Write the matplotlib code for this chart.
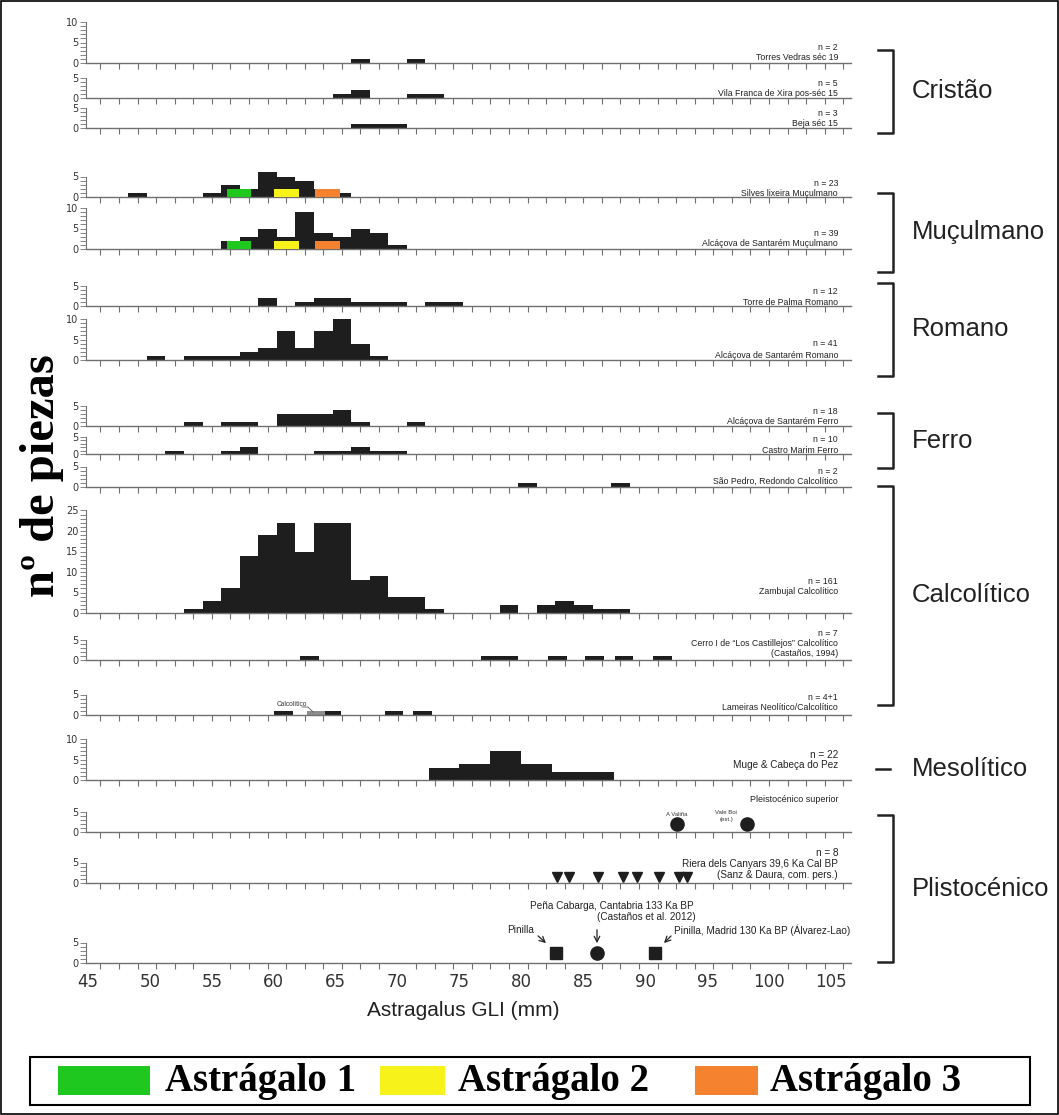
import numpy as np
import matplotlib
matplotlib.use('Agg')
import matplotlib.pyplot as plt
from matplotlib import font_manager as fm
from matplotlib.lines import Line2D
from matplotlib.patches import Rectangle

# ---- dados (GLI em mm, contagens por classe) ----
torres_x = [67, 71.5]
torres_n = [1, 1]
vila_x = [65.5, 67, 71.5, 73]
vila_n = [1, 2, 1, 1]
beja_x = [67, 68.5, 70]
beja_n = [1, 1, 1]
silves_x = [49, 55, 56.5, 58, 59.5, 61, 62.5, 64, 65.5]
silves_n = [1, 1, 3, 2, 6, 5, 4, 2, 1]
alcm_x = [56.5, 58, 59.5, 61, 62.5, 64, 65.5, 67, 68.5, 70]
alcm_n = [2, 3, 5, 3, 9, 4, 3, 5, 4, 1]
palma_x = [59.5, 62.5, 64, 65.5, 67, 68.5, 70, 73, 74.5]
palma_n = [2, 1, 2, 2, 1, 1, 1, 1, 1]
alcr_x = [50.5, 53.5, 55, 56.5, 58, 59.5, 61, 62.5, 64, 65.5, 67, 68.5]
alcr_n = [1, 1, 1, 1, 2, 3, 7, 3, 7, 10, 4, 1]
alcf_x = [53.5, 56.5, 58, 61, 62.5, 64, 65.5, 67, 71.5]
alcf_n = [1, 1, 1, 3, 3, 3, 4, 1, 1]
castro_x = [52, 56.5, 58, 64, 65.5, 67, 68.5, 70]
castro_n = [1, 1, 2, 1, 1, 2, 1, 1]
saop_x = [80.5, 88]
saop_n = [1, 1]
zamb_x = [53.5, 55, 56.5, 58, 59.5, 61, 62.5, 64, 65.5, 67, 68.5, 70, 71.5, 73,
          79, 82, 83.5, 85, 86.5, 88]
zamb_n = [1, 3, 6, 14, 19, 22, 15, 22, 22, 8, 9, 4, 4, 1,
          2, 2, 3, 2, 1, 1]
cerro_x = [62.9, 77.5, 79, 82.9, 85.9, 88.3, 91.4]
cerro_n = [1, 1, 1, 1, 1, 1, 1]
lam_x = [60.8, 64.7, 69.7, 72.0]
lam_n = [1, 1, 1, 1]
lam_calc_x = [63.4]
lam_calc_n = [1]
muge_x = [73.75, 76.25, 78.75, 81.25, 83.75, 86.25]
muge_n = [3, 4, 7, 4, 2, 2]

# os 3 astrágalos estudados
astr_x = [57.2, 61.05, 64.35]
astr_h = [2, 2, 2]
astr_cor = ['#1ec81e', '#f7f21a', '#f5822e']
astr_lab = ['Astrágalo 1', 'Astrágalo 2', 'Astrágalo 3']

# Plistocénico (valores individuais)
valina_x, valina_y = [92.6], [2]
valeboi_x, valeboi_y = [98.2], [2]
riera_x = [82.9, 83.85, 86.2, 88.2, 89.3, 91.15, 92.75, 93.4]
riera_y = [1.5] * 8
pinilla_x, pinilla_y = [82.8, 90.8], [2.4, 2.4]
cabarga_x, cabarga_y = [86.1], [2.4]

xticklab = [45, 50, 55, 60, 65, 70, 75, 80, 85, 90, 95, 100, 105]

# ---- figura ----
W_PX, H_PX = 1059, 1115
fig = plt.figure(figsize=(W_PX / 100, H_PX / 100), dpi=100)

X0_PX, PX_MM = 88, 12.383   # 45 mm -> px 88
XMIN, XMAX = 44.8, 106.6
PPU = 4.1                   # px por peça
GRAY = '#707070'
BARC = '#1e1e1e'

try:
    fm.findfont('Liberation Sans Narrow', fallback_to_default=False)
    NARROW, NSIZE = 'Liberation Sans Narrow', 7.3
except Exception:
    NARROW, NSIZE = 'Liberation Sans', 6.3


def fx(px):
    return px / W_PX


def fy(py):
    return 1 - py / H_PX


def panel(base, ymax, bottom=False, ppu=PPU):
    left = X0_PX + (XMIN - 45) * PX_MM
    right = X0_PX + (XMAX - 45) * PX_MM
    h = ymax * ppu
    ax = fig.add_axes([fx(left), fy(base), (right - left) / W_PX, h / H_PX])
    ax.set_xlim(XMIN, XMAX)
    ax.set_ylim(0, ymax)
    ax.patch.set_alpha(0)
    for s in ['top', 'right']:
        ax.spines[s].set_visible(False)
    ax.spines['bottom'].set_color(GRAY)
    ax.spines['left'].set_color(GRAY)
    ax.spines['bottom'].set_linewidth(1.0)
    ax.spines['left'].set_linewidth(0.8)
    ax.set_yticks(np.arange(0, ymax + 1, 5))
    ax.set_yticks(np.arange(0, ymax + 1, 1), minor=True)
    ax.tick_params(axis='y', which='both', length=4, width=0.6, color=GRAY,
                   labelsize=7, labelcolor='#333333', pad=1)
    ax.set_xticks(np.arange(46, 106.2, 1.5), minor=True)
    ax.tick_params(axis='x', which='minor', length=4, width=0.8, color=GRAY)
    if bottom:
        ax.set_xticks(xticklab)
        ax.tick_params(axis='x', which='major', length=0, labelsize=12,
                       labelcolor='#333333', pad=7)
    else:
        ax.set_xticks([])
    return ax


def hist(ax, x, n, w=1.5, color=BARC):
    ax.bar(x, n, width=w, color=color, edgecolor='none', clip_on=False, zorder=2)


def rlabel(lines, ys, family=None, size=None):
    for s, y in zip(lines, ys):
        fig.text(fx(838), fy(y), s, ha='right', va='center',
                 fontsize=size or NSIZE, family=family or NARROW, color='#222222')


ax = panel(63, 10); hist(ax, torres_x, torres_n)
rlabel(['n = 2', 'Torres Vedras séc 19'], [48, 58])
ax = panel(98, 5); hist(ax, vila_x, vila_n)
rlabel(['n = 5', 'Vila Franca de Xira pos-séc 15'], [84, 94])
ax = panel(128, 5); hist(ax, beja_x, beja_n)
rlabel(['n = 3', 'Beja séc 15'], [113, 123])

ax = panel(197, 5); hist(ax, silves_x, silves_n)
ax.bar(astr_x, astr_h, width=2.0, color=astr_cor, edgecolor='none', zorder=3)
rlabel(['n = 23', 'Silves lixeira Muçulmano'], [183, 193])
ax = panel(249, 10); hist(ax, alcm_x, alcm_n)
ax.bar(astr_x, astr_h, width=2.0, color=astr_cor, edgecolor='none', zorder=3)
rlabel(['n = 39', 'Alcáçova de Santarém Muçulmano'], [234, 244])

ax = panel(306, 5); hist(ax, palma_x, palma_n)
rlabel(['n = 12', 'Torre de Palma Romano'], [292, 302])
ax = panel(360, 10); hist(ax, alcr_x, alcr_n)
rlabel(['n = 41', 'Alcáçova de Santarém Romano'], [344, 355])

ax = panel(426, 5); hist(ax, alcf_x, alcf_n)
rlabel(['n = 18', 'Alcáçova de Santarém Ferro'], [411, 421])
ax = panel(454, 5, ppu=3.4); hist(ax, castro_x, castro_n)
rlabel(['n = 10', 'Castro Marim Ferro'], [440, 450])

ax = panel(487, 5); hist(ax, saop_x, saop_n)
rlabel(['n = 2', 'São Pedro, Redondo Calcolítico'], [471, 481])
ax = panel(613, 25); hist(ax, zamb_x, zamb_n)
rlabel(['n = 161', 'Zambujal Calcolítico'], [581, 592])
ax = panel(660, 5); hist(ax, cerro_x, cerro_n)
rlabel(['n = 7', 'Cerro I de “Los Castillejos” Calcolítico', '(Castaños, 1994)'],
       [633, 644, 654])
ax = panel(715, 5); hist(ax, lam_x, lam_n)
hist(ax, lam_calc_x, lam_calc_n, color='#8c8c8c')
rlabel(['n = 4+1', 'Lameiras Neolítico/Calcolítico'], [697, 707])
fig.text(fx(277), fy(705), 'Calcolítico', fontsize=4.8, family=NARROW,
         ha='left', va='center', color='#333333')
fig.add_artist(Line2D([fx(302), fx(308), fx(313)], [fy(707), fy(707), fy(712)],
                      color='#555555', lw=0.6))

ax = panel(780, 10); hist(ax, muge_x, muge_n, w=2.5)
rlabel(['n = 22', 'Muge & Cabeça do Pez'], [755, 765], family='Liberation Sans', size=7.2)

rlabel(['Pleistocénico superior'], [799], family='Liberation Sans', size=6.5)
ax = panel(832, 5)
ax.plot(valina_x, valina_y, 'o', ms=9.5, color=BARC, clip_on=False)
ax.plot(valeboi_x, valeboi_y, 'o', ms=9.5, color=BARC, clip_on=False)
fig.text(fx(677), fy(815), 'A Valiña', fontsize=4.3, ha='center', va='center',
         family='Liberation Sans', color='#333333')
fig.text(fx(726), fy(813), 'Vale Boi', fontsize=4.3, ha='center', va='center',
         family='Liberation Sans', color='#333333')
fig.text(fx(726), fy(819), '(est.)', fontsize=4.3, ha='center', va='center',
         family='Liberation Sans', color='#333333')

ax = panel(883, 5)
ax.plot(riera_x, riera_y, 'v', ms=7.5, color=BARC, clip_on=False)
rlabel(['n = 8', 'Riera dels Canyars 39,6 Ka Cal BP', '(Sanz & Daura, com. pers.)'],
       [853, 864, 875], family='Liberation Sans', size=7.2)

ax = panel(963, 5, bottom=True)
ax.plot(pinilla_x, pinilla_y, 's', ms=8.8, color=BARC, clip_on=False)
ax.plot(cabarga_x, cabarga_y, 'o', ms=9.5, color=BARC, clip_on=False)


def fp(x, y):
    return (x, H_PX - y)


small = dict(fontsize=7.2, family='Liberation Sans', color='#222222')
fig.text(fx(612), fy(906), 'Peña Cabarga, Cantabria 133 Ka BP', ha='center', va='center', **small)
fig.text(fx(646), fy(917), '(Castaños et al. 2012)', ha='center', va='center', **small)
fig.text(fx(534), fy(930), 'Pinilla', ha='right', va='center', **small)
fig.text(fx(674), fy(930), 'Pinilla, Madrid 130 Ka BP (Álvarez-Lao)', ha='left', va='center', **small)
arr = dict(arrowstyle='->', color='#222222', lw=0.9)
ax.annotate('', xy=fp(548, 945), xytext=fp(536, 934), xycoords='figure pixels',
            textcoords='figure pixels', arrowprops=arr)
ax.annotate('', xy=fp(597, 946), xytext=fp(597, 927), xycoords='figure pixels',
            textcoords='figure pixels', arrowprops=arr)
ax.annotate('', xy=fp(662, 945), xytext=fp(673, 934), xycoords='figure pixels',
            textcoords='figure pixels', arrowprops=arr)

fig.text(fx(463), fy(1010), 'Astragalus GLI (mm)', ha='center', va='center',
         fontsize=15, family='Liberation Sans', color='#222222')
fig.text(fx(42), fy(476), 'nº de piezas', rotation=90, ha='center', va='center',
         fontsize=35, family='Liberation Serif', weight='bold')

# ---- períodos à direita ----
periodos = [('Cristão', 50, 133), ('Muçulmano', 193, 272), ('Romano', 283, 376),
            ('Ferro', 413, 468), ('Calcolítico', 486, 705), ('Plistocénico', 815, 962)]
for nome, y0, y1 in periodos:
    fig.add_artist(Line2D([fx(878), fx(893), fx(893), fx(878)],
                          [fy(y0), fy(y0), fy(y1), fy(y1)], color='#222222', lw=1.8))
    fig.text(fx(912), fy((y0 + y1) / 2), nome, ha='left', va='center',
             fontsize=18.5, family='Liberation Sans', color='#222222')
fig.add_artist(Line2D([fx(876), fx(890)], [fy(769), fy(769)], color='#222222', lw=1.8))
fig.text(fx(912), fy(769), 'Mesolítico', ha='left', va='center',
         fontsize=18.5, family='Liberation Sans', color='#222222')

# ---- legenda ----
fig.add_artist(Rectangle((fx(30), fy(1105)), (1030 - 30) / W_PX, (1105 - 1057) / H_PX,
                         transform=fig.transFigure, fill=False, lw=1.5, ec='black'))
patch_pos = [(58, 150, 165), (380, 445, 458), (695, 758, 770)]
for (a, b, t), c, lab in zip(patch_pos, astr_cor, astr_lab):
    fig.add_artist(Rectangle((fx(a), fy(1095)), (b - a) / W_PX, 29 / H_PX,
                             transform=fig.transFigure, color=c, ec='none'))
    fig.text(fx(t), fy(1081), lab, ha='left', va='center', fontsize=28,
             family='Liberation Serif', weight='bold')

# moldura
fig.add_artist(Rectangle((0.001, 0.001), 0.998, 0.998, transform=fig.transFigure,
                         fill=False, lw=1.2, ec='black'))

fig.savefig('out.png', dpi=100)
